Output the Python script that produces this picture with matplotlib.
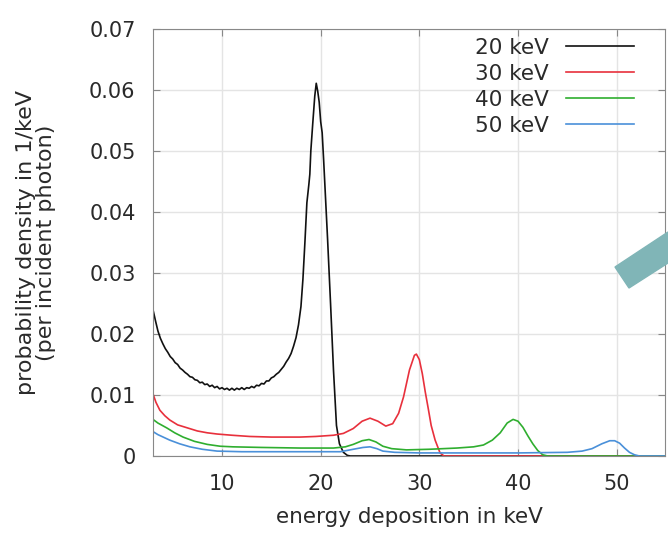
import matplotlib
matplotlib.use("Agg")
from matplotlib import pyplot as plt
from matplotlib.patches import Polygon

plt.rcParams["font.family"] = ["DejaVu Sans"]

# 20 keV (noisy spectrum)
e20 = [3.0, 3.25, 3.5, 3.75, 4.0, 4.25, 4.5, 4.75, 5.0, 5.25, 5.5, 5.75, 6.0, 6.25, 6.5, 6.75,
       7.0, 7.25, 7.5, 7.75, 8.0, 8.25, 8.5, 8.75, 9.0, 9.25, 9.5, 9.75, 10.0, 10.25, 10.5, 10.75,
       11.0, 11.25, 11.5, 11.75, 12.0, 12.25, 12.5, 12.75, 13.0, 13.25, 13.5, 13.75, 14.0, 14.25,
       14.5, 14.75, 15.0, 15.25, 15.5, 15.75, 16.0, 16.25, 16.5, 16.75, 17.0, 17.25, 17.5, 17.75,
       18.0, 18.2, 18.4, 18.6, 18.8, 18.9, 19.0, 19.2, 19.4, 19.55, 19.7, 19.85, 20.0, 20.15, 20.3,
       20.5, 20.7, 21.0, 21.3, 21.6, 21.9, 22.3, 22.7, 23.0, 55.0]
p20 = [0.0240, 0.0222, 0.0205, 0.0193, 0.0184, 0.0176, 0.0170, 0.0163, 0.0159, 0.0153, 0.0150,
       0.0144, 0.0141, 0.0137, 0.0134, 0.0130, 0.0129, 0.0125, 0.0124, 0.0120, 0.0121, 0.0117,
       0.0118, 0.0114, 0.0116, 0.0112, 0.0114, 0.0110, 0.0112, 0.0109, 0.0111, 0.0108, 0.0111,
       0.0108, 0.0111, 0.0109, 0.0112, 0.0109, 0.0112, 0.0111, 0.0114, 0.0112, 0.0116, 0.0115,
       0.0119, 0.0118, 0.0123, 0.0123, 0.0128, 0.0130, 0.0134, 0.0137, 0.0142, 0.0147, 0.0154,
       0.0160, 0.0168, 0.0180, 0.0194, 0.0215, 0.0245, 0.0290, 0.0350, 0.0415, 0.0445, 0.0462,
       0.0500, 0.0546, 0.0590, 0.0611, 0.0598, 0.0580, 0.0548, 0.0530, 0.0485, 0.0420, 0.0355,
       0.0250, 0.0140, 0.0050, 0.0020, 0.0006, 0.0001, 0.0, 0.0]

e30 = [3.0, 3.3, 3.7, 4.2, 4.7, 5.5, 6.5, 7.5, 8.5, 9.5, 11.0, 12.8, 15.0, 17.9, 19.5, 21.3, 22.3,
       23.3, 24.2, 25.0, 25.8, 26.6, 27.3, 27.9, 28.4, 29.0, 29.5, 29.7, 30.0, 30.3, 30.6, 30.9,
       31.2, 31.6, 32.1, 32.5, 55.0]
p30 = [0.0102, 0.0088, 0.0075, 0.0066, 0.0059, 0.0051, 0.0046, 0.0041, 0.0038, 0.0036, 0.0034,
       0.0032, 0.0031, 0.0031, 0.0032, 0.0034, 0.0037, 0.0045, 0.0057, 0.0062, 0.0057, 0.0049,
       0.0053, 0.0070, 0.0097, 0.0141, 0.0165, 0.0167, 0.0158, 0.0135, 0.0105, 0.0078, 0.0050,
       0.0026, 0.0005, 0.0, 0.0]

e40 = [3.0, 3.5, 4.4, 5.2, 6.05, 7.2, 8.5, 9.8, 11.1, 14.0, 18.0, 21.3, 22.5, 23.3, 24.2, 24.9,
       25.6, 26.3, 27.2, 28.7, 31.0, 33.8, 35.5, 36.5, 37.4, 38.2, 38.9, 39.5, 40.0, 40.5, 41.0,
       41.5, 42.0, 42.5, 43.0, 55.0]
p40 = [0.0060, 0.0054, 0.0046, 0.0038, 0.0031, 0.0024, 0.0019, 0.0016, 0.0015, 0.0014, 0.0013,
       0.0013, 0.0015, 0.0019, 0.0025, 0.0027, 0.0023, 0.0016, 0.0012, 0.0010, 0.0011, 0.0013,
       0.0015, 0.0018, 0.0026, 0.0038, 0.0054, 0.0060, 0.0057, 0.0047, 0.0033, 0.0020, 0.0009,
       0.0002, 0.0, 0.0]

e50 = [3.0, 3.5, 4.7, 5.7, 6.75, 8.0, 9.5, 12.0, 18.0, 22.0, 23.3, 24.3, 25.0, 25.7, 26.3, 27.5,
       30.0, 40.0, 45.0, 46.5, 47.5, 48.5, 49.3, 49.8, 50.3, 50.8, 51.3, 51.8, 52.3, 55.0]
p50 = [0.0040, 0.0035, 0.0026, 0.0020, 0.0015, 0.0011, 0.0008, 0.0007, 0.0007, 0.0007, 0.0011,
       0.0014, 0.0015, 0.0012, 0.0008, 0.0006, 0.0005, 0.0005, 0.0006, 0.0008, 0.0012, 0.0020,
       0.0025, 0.0025, 0.0021, 0.0013, 0.0006, 0.0002, 0.0, 0.0]

labels = ["20 keV", "30 keV", "40 keV", "50 keV"]
colors = ["#111111", "#e8303c", "#2fae2f", "#4a90d9"]

fig = plt.figure(figsize=(6.68, 5.33), dpi=100)
ax = fig.add_axes([0.229, 0.1445, 0.7665, 0.8011])

for x, y, lab, c in zip([e20, e30, e40, e50], [p20, p30, p40, p50], labels, colors):
    ax.plot(x, y, color=c, linewidth=1.2, label=lab)

ax.set_xlim(3, 54.9)
ax.set_ylim(0, 0.07)
ax.set_xticks([10, 20, 30, 40, 50])
ax.set_yticks([0, 0.01, 0.02, 0.03, 0.04, 0.05, 0.06, 0.07])
ax.set_yticklabels(["0", "0.01", "0.02", "0.03", "0.04", "0.05", "0.06", "0.07"])
ax.grid(True, color="#e4e4e4", linewidth=1.0)
ax.set_axisbelow(True)
ax.tick_params(direction="in", top=True, right=True, length=5, color="#888888",
               labelsize=15, labelcolor="#2a2a2a")
ax.tick_params(axis="x", pad=13)
ax.tick_params(axis="y", pad=12.5)
for s in ax.spines.values():
    s.set_color("#888888")

ax.set_xlabel("energy deposition in keV", fontsize=15.5, color="#2a2a2a")
ax.set_ylabel("probability density in 1/keV\n(per incident photon)", fontsize=16,
              color="#2a2a2a", linespacing=1.0)
ax.xaxis.set_label_coords(0.5, -0.119)
ax.yaxis.set_label_coords(-0.19, 0.5)

leg = ax.legend(loc="upper right", bbox_to_anchor=(0.94, 0.98), frameon=False,
                markerfirst=False, fontsize=15.5, handlelength=3.16, labelspacing=0.28,
                borderpad=0.0, borderaxespad=0.0, handletextpad=0.8)
for t in leg.get_texts():
    t.set_color("#2a2a2a")

# teal decoration on the right edge
pts = [(615, 267), (629, 288), (668, 263), (668, 232)]
fig.patches.append(Polygon([(px / 668, 1 - py / 533) for px, py in pts], closed=True,
                           transform=fig.transFigure, color="#80b5b7", zorder=5))

fig.savefig("out.png", dpi=100)
